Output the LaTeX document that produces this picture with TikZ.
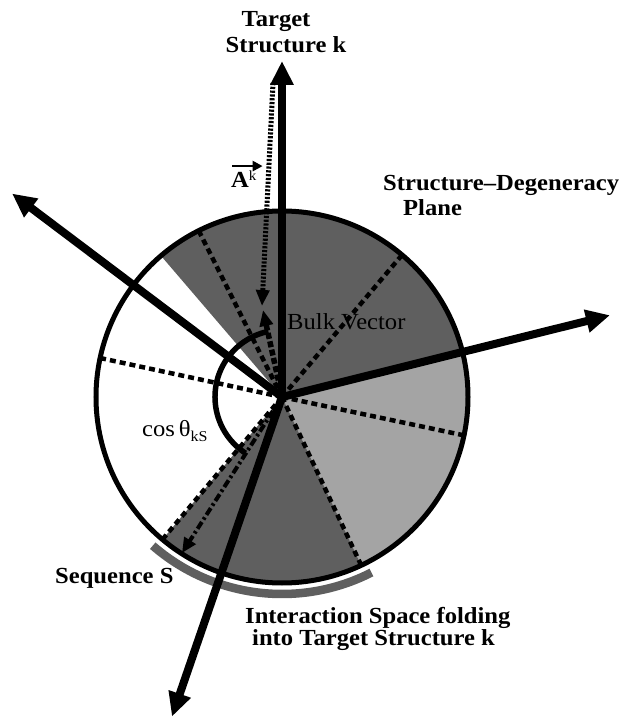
\documentclass[tikz,border=0pt]{standalone}
\usepackage{fontspec}
\setmainfont[FakeStretch=1.07]{Liberation Serif}
\usetikzlibrary{arrows.meta}
\definecolor{darkg}{HTML}{5F5F5F}
\definecolor{lightg}{HTML}{A4A4A4}
\begin{document}
\begin{tikzpicture}[x=1pt,y=1pt,
  bigarrow/.style={line width=8pt,-{Triangle[length=24pt,width=22pt]}},
  radialdash/.style={line width=4.5pt,dash pattern=on 6pt off 4pt},
  bulkstyle/.style={line width=5.5pt,dash pattern=on 6pt off 2.5pt,-{Triangle[length=16pt,width=13pt]}},
  akstyle/.style={line width=5pt,dash pattern=on 2.2pt off 1.6pt,-{Triangle[length=16pt,width=13pt]}},
  seqstyle/.style={line width=4pt,dash pattern=on 8pt off 3pt on 2.5pt off 3pt,-{Triangle[length=15pt,width=13pt]}},
  lbl/.style={font=\fontsize{23}{26}\selectfont\bfseries, inner sep=0pt},
  lblr/.style={font=\fontsize{23}{26}\selectfont, inner sep=0pt}]
\useasboundingbox (-282,-322) rectangle (341,397);
\def\R{186}
\coordinate (C) at (0,0);
% sectors
\fill[darkg] (C) -- (14:\R) arc[start angle=14,end angle=130.6,radius=\R] -- cycle;
\fill[lightg] (C) -- (-64.8:\R) arc[start angle=-64.8,end angle=14,radius=\R] -- cycle;
\fill[darkg] (C) -- (230:\R) arc[start angle=230,end angle=295.2,radius=\R] -- cycle;
% interaction space arc
\draw[darkg,line width=8.5pt] (229:197) arc[start angle=229,end angle=297,radius=197];
% dashed radials
\foreach \a/\n in {116.6/d1,49.8/d2,167.9/d3,-11.9/d4,-64.8/d5,230/d6}{
  \coordinate (\n) at (\a:\R);
  \draw[radialdash] (C) -- (\n);
}
% circle
\draw[line width=5pt] (C) circle (\R);
% cos arc
\coordinate (arcS) at (101.7:67);
\draw[line width=5.5pt] (arcS) arc[start angle=101.7,end angle=237,radius=67];
% big arrows
\coordinate (tk) at (90:336);
\coordinate (tul) at (143:338);
\coordinate (tr) at (14:338);
\coordinate (tdl) at (251:338);
\draw[bigarrow] (C) -- (tk);
\draw[bigarrow] (C) -- (tul);
\draw[bigarrow] (C) -- (tr);
\draw[bigarrow] (C) -- (tdl);
% bulk vector
\coordinate (bulk) at (-19,87);
\draw[bulkstyle] (C) -- (bulk);
% A^k vector
\coordinate (akS) at (-9,314);
\coordinate (akE) at (-20,91);
\draw[akstyle] (akS) -- (akE);
% sequence S
\coordinate (seq) at (-100,-156);
\draw[seqstyle] (C) -- (seq);
% labels
\node[lbl,anchor=base] (t1) at (-6,370) {Target};
\node[lbl,anchor=base] (t2) at (4,344) {Structure k};
\node[lbl,anchor=base west] (sd1) at (101,206) {Structure–Degeneracy};
\node[lbl,anchor=base west] (sd2) at (121,181) {Plane};
\node[lblr,anchor=base west] (bv) at (5,67) {Bulk Vector};
\node[lblr,anchor=base west] (cs) at (-140,-40) {cos\,θ\raisebox{-5pt}{\fontsize{15}{15}\selectfont kS}};
\node[lbl,anchor=base west] (ss) at (-227,-186) {Sequence S};
\node[lbl,anchor=base west] (is1) at (-37,-226) {Interaction Space folding};
\node[lbl,anchor=base west] (is2) at (-30,-248) {into Target Structure k};
\node[lbl,anchor=base west] (ak) at (-51,209) {A\raisebox{7pt}{\fontsize{14}{14}\selectfont\mdseries k}};
\draw[line width=2.5pt,-{Triangle[length=10pt,width=10pt]}] ([xshift=1pt,yshift=5pt]ak.north west) -- ([xshift=6pt,yshift=5pt]ak.north east);
\end{tikzpicture}
\end{document}
